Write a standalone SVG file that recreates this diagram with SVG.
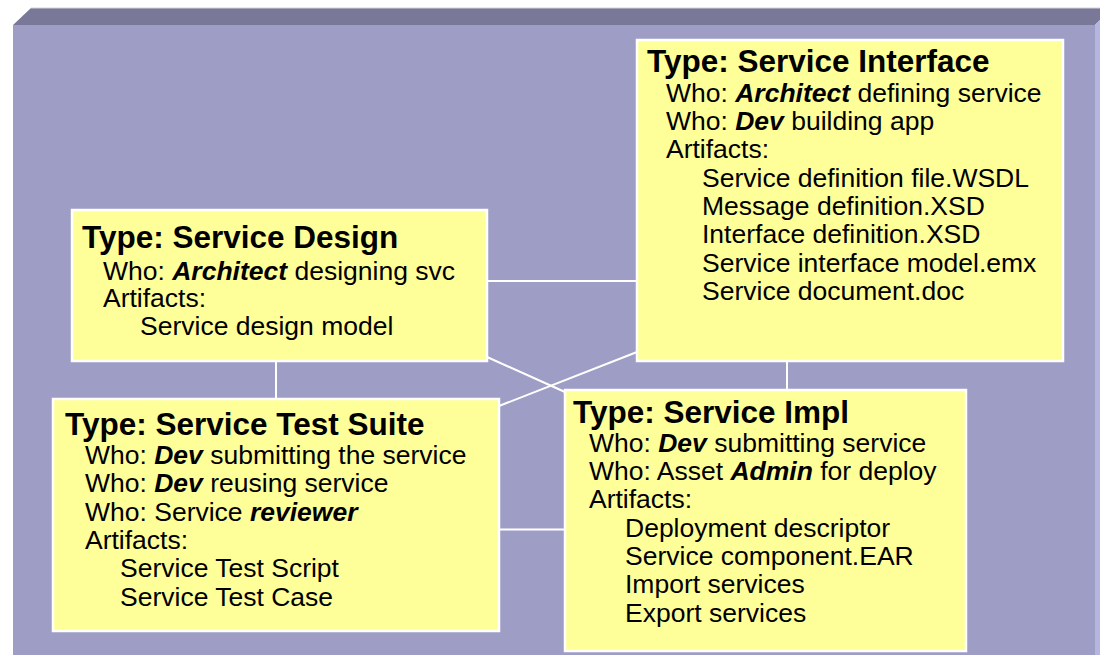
<svg xmlns="http://www.w3.org/2000/svg" width="1100" height="655" viewBox="0 0 1100 655">
<style>
.box{fill:#ffff99;stroke:#ffffff;stroke-width:2.5}
.t{font-family:"Liberation Sans",Arial,sans-serif;font-size:31.5px;font-weight:bold;fill:#000}
.r{font-family:"Liberation Sans",Arial,sans-serif;font-size:26.5px;fill:#000}
.bi{font-weight:bold;font-style:italic}
.conn line{stroke:#ffffff;stroke-width:2}
</style>
<rect x="0" y="0" width="1100" height="655" fill="#ffffff"/>
<g id="panel">
<polygon points="13,25 31,8 1100,8 1100,20 1095,25" fill="#7a7898"/>
<polygon points="1095,25 1100,20 1100,655 1095,655" fill="#b6b5de"/>
<rect x="13" y="25" width="1082" height="630" fill="#9e9dc5"/>
<line x1="31" y1="8" x2="1100" y2="8" stroke="#d4d4d8" stroke-width="1"/>
</g>
<g id="connectors" class="conn">
<line x1="487" y1="281" x2="637" y2="281"/>
<line x1="276" y1="361" x2="276" y2="399"/>
<line x1="787" y1="361" x2="787" y2="390"/>
<line x1="499" y1="529.5" x2="565" y2="529.5"/>
<line x1="487" y1="357" x2="565" y2="392"/>
<line x1="637" y1="352" x2="499" y2="406"/>
</g>
<g id="service-design">
<rect class="box" x="72" y="210" width="415" height="151"/>
<text class="t" x="82" y="247.5">Type: Service Design</text>
<text class="r" x="103" y="279.5">Who: <tspan class="bi">Architect</tspan> designing svc</text>
<text class="r" x="103" y="307">Artifacts:</text>
<text class="r" x="140" y="334.5">Service design model</text>
</g>
<g id="service-interface">
<rect class="box" x="637" y="40" width="426" height="321"/>
<text class="t" x="647" y="71.7">Type: Service Interface</text>
<text class="r" x="666" y="101.7">Who: <tspan class="bi">Architect</tspan> defining service</text>
<text class="r" x="666" y="130">Who: <tspan class="bi">Dev</tspan> building app</text>
<text class="r" x="666" y="158.3">Artifacts:</text>
<text class="r" x="702" y="186.7">Service definition file.WSDL</text>
<text class="r" x="702" y="215">Message definition.XSD</text>
<text class="r" x="702" y="243.3">Interface definition.XSD</text>
<text class="r" x="702" y="271.7">Service interface model.emx</text>
<text class="r" x="702" y="300">Service document.doc</text>
</g>
<g id="service-impl">
<rect class="box" x="565" y="390" width="401" height="261"/>
<text class="t" x="573" y="423.3">Type: Service Impl</text>
<text class="r" x="589" y="451.7">Who: <tspan class="bi">Dev</tspan> submitting service</text>
<text class="r" x="589" y="480">Who: Asset <tspan class="bi">Admin</tspan> for deploy</text>
<text class="r" x="589" y="508.3">Artifacts:</text>
<text class="r" x="625" y="536.7">Deployment descriptor</text>
<text class="r" x="625" y="565">Service component.EAR</text>
<text class="r" x="625" y="593.3">Import services</text>
<text class="r" x="625" y="621.7">Export services</text>
</g>
<g id="service-test-suite">
<rect class="box" x="53" y="399" width="446" height="232"/>
<text class="t" x="65" y="435">Type: Service Test Suite</text>
<text class="r" x="85" y="464">Who: <tspan class="bi">Dev</tspan> submitting the service</text>
<text class="r" x="85" y="492.3">Who: <tspan class="bi">Dev</tspan> reusing service</text>
<text class="r" x="85" y="520.7">Who: Service <tspan class="bi">reviewer</tspan></text>
<text class="r" x="85" y="549">Artifacts:</text>
<text class="r" x="120" y="577.3">Service Test Script</text>
<text class="r" x="120" y="605.7">Service Test Case</text>
</g>
</svg>
